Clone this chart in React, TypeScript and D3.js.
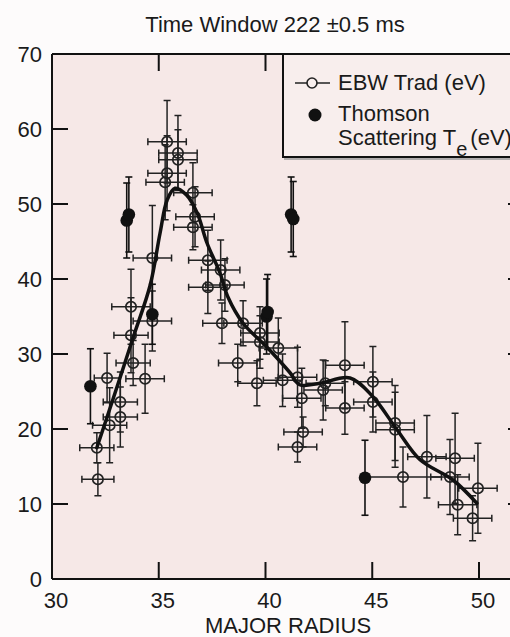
import React from "react";
import * as d3 from "d3";

// EBW Trad points: [x, y, xErr, yErr]
const ebwX = [32.15, 32.1, 32.7, 33.2, 33.2, 32.58, 34.36, 33.8, 33.7, 33.7, 34.7, 34.7,
  35.39, 35.9, 35.9, 35.39, 35.3, 36.6, 36.7, 36.6, 37.3, 37.9, 37.3, 38.1,
  37.96, 38.95, 39.74, 39.74, 40.6, 38.7, 39.6, 40.8, 41.5, 41.7, 42.7, 41.76, 41.5, 42.8,
  43.72, 43.72, 45.03, 45.03, 46.07, 46.07, 46.44, 47.56, 48.88, 48.64, 49.95, 49.0, 49.7];
const ebwY = [13.3, 17.5, 20.5, 21.6, 23.6, 26.8, 26.7, 28.8, 32.5, 36.3, 34.4, 42.8,
  58.3, 56.8, 55.9, 54.1, 52.9, 51.5, 48.3, 46.9, 42.5, 41.2, 38.9, 39.2,
  34.1, 34.1, 32.8, 31.6, 30.8, 28.8, 26.1, 26.5, 26.9, 24.1, 25.2, 19.6, 17.6, 26.1,
  28.5, 22.8, 26.3, 23.6, 20.8, 19.9, 13.6, 16.3, 16.1, 13.6, 12.1, 9.9, 8.1];
const ebwXErr = [0.75, 0.8, 0.8, 0.8, 0.8, 0.6, 0.9, 0.8, 0.8, 0.9, 0.9, 0.9,
  0.9, 0.9, 0.9, 0.9, 0.9, 0.9, 0.9, 0.9, 0.9, 0.9, 0.9, 0.9,
  0.9, 0.9, 0.9, 0.9, 0.9, 0.9, 0.9, 0.9, 0.9, 0.9, 0.9, 0.9, 0.9, 0.9,
  0.9, 0.9, 0.9, 0.9, 0.9, 0.9, 1.8, 0.9, 0.9, 0.9, 0.9, 0.9, 0.9];
const ebwYErr = [2.2, 2, 5, 4, 4, 3.3, 4.6, 3, 5, 5, 4, 7,
  5.5, 5, 4, 5, 5, 4, 4, 3, 4, 4, 3.5, 3.5,
  2.7, 3, 3.5, 3.5, 4, 2.5, 3, 3.5, 4, 4, 4, 2, 2, 3,
  5.8, 3.5, 4.7, 4, 5, 5, 4, 5.5, 6, 5, 6, 4, 3];

// Thomson scattering Te points
const thX = [31.8, 33.5, 33.6, 34.7, 40.05, 40.1, 41.2, 41.3, 44.66];
const thY = [25.7, 47.8, 48.6, 35.3, 35.0, 35.6, 48.6, 48.0, 13.5];
const thYErr = [5, 5, 5, 4, 5, 5, 5, 5, 5];

// Smooth fit curve
const fitX = [32.1, 32.86, 33.8, 34.6, 35.06, 35.39, 35.76, 36.3, 36.8, 37.26, 37.87, 38.24,
  38.95, 40.07, 41.15, 41.6, 42.55, 43.96, 45.03, 46.16, 47.24, 48.78, 49.9];
const fitY = [17.5, 24.0, 32.2, 39.2, 46.1, 50.5, 52.1, 51.2, 48.8, 44.8, 40.8, 37.6,
  34.1, 30.9, 27.5, 25.9, 26.1, 26.8, 24.3, 19.9, 15.9, 13.2, 10.1];

const xTicks = [30, 35, 40, 45, 50];
const yTicks = [0, 10, 20, 30, 40, 50, 60, 70];

export default function App() {
  const W = 510, H = 637;
  const left = 52, right = 524, top = 54, bottom = 579;
  const x = d3.scaleLinear().domain([30, 50]).range([52, 479]);
  const y = d3.scaleLinear().domain([0, 70]).range([579, 54]);
  const font = "'Liberation Sans', Arial, Helvetica, sans-serif";
  const line = d3.line<number>()
    .x((_, i) => x(fitX[i]))
    .y((_, i) => y(fitY[i]))
    .curve(d3.curveCatmullRom.alpha(0.5));
  const cap = 3.5;
  const tickLen = 17;
  return (
    <svg width={W} height={H} style={{ position: "absolute", left: 0, top: 0, background: "#fdfbfb" }}>
      <rect x={left} y={top} width={right - left} height={bottom - top} fill="#f6e8e7" />
      {/* title */}
      <text x={275} y={32} fontFamily={font} fontSize={22} textAnchor="middle" fill="#1a1a1a">Time Window 222 ±0.5 ms</text>
      {/* EBW error bars */}
      <g stroke="#222" strokeWidth={1.5} fill="none">
        {ebwX.map((xv, i) => {
          const cx = x(xv), cy = y(ebwY[i]);
          const y1 = y(ebwY[i] + ebwYErr[i]), y2 = y(ebwY[i] - ebwYErr[i]);
          const x1 = x(xv - ebwXErr[i]), x2 = x(xv + ebwXErr[i]);
          return (
            <g key={"e" + i}>
              <line x1={cx} x2={cx} y1={y1} y2={y2} />
              <line x1={cx - cap} x2={cx + cap} y1={y1} y2={y1} />
              <line x1={cx - cap} x2={cx + cap} y1={y2} y2={y2} />
              <line x1={x1} x2={x2} y1={cy} y2={cy} />
              <line x1={x1} x2={x1} y1={cy - cap} y2={cy + cap} />
              <line x1={x2} x2={x2} y1={cy - cap} y2={cy + cap} />
              <circle cx={cx} cy={cy} r={5.2} strokeWidth={1.7} />
            </g>
          );
        })}
      </g>
      {/* Thomson points */}
      <g stroke="#111" strokeWidth={1.6}>
        {thX.map((xv, i) => {
          const cx = x(xv), cy = y(thY[i]);
          const y1 = y(thY[i] + thYErr[i]), y2 = y(thY[i] - thYErr[i]);
          return (
            <g key={"t" + i}>
              <line x1={cx} x2={cx} y1={y1} y2={y2} />
              <line x1={cx - cap} x2={cx + cap} y1={y1} y2={y1} />
              <line x1={cx - cap} x2={cx + cap} y1={y2} y2={y2} />
              <circle cx={cx} cy={cy} r={6.3} fill="#111" stroke="none" />
            </g>
          );
        })}
      </g>
      {/* fit curve */}
      <path d={line(fitX) || ""} fill="none" stroke="#111" strokeWidth={3.5} strokeLinejoin="round" strokeLinecap="round" />
      {/* frame */}
      <g stroke="#111" strokeWidth={2}>
        <line x1={left} x2={right} y1={bottom} y2={bottom} />
        <line x1={left} x2={right} y1={top} y2={top} />
        <line x1={left} x2={left} y1={top} y2={bottom} />
        {xTicks.slice(1).map((t) => (
          <g key={"xt" + t}>
            <line x1={x(t)} x2={x(t)} y1={bottom} y2={bottom - tickLen} />
            <line x1={x(t)} x2={x(t)} y1={top} y2={top + tickLen} />
          </g>
        ))}
        {yTicks.slice(1, -1).map((t) => (
          <g key={"yt" + t}>
            <line x1={left} x2={left + 16} y1={y(t)} y2={y(t)} />
            <line x1={right} x2={right - 16} y1={y(t)} y2={y(t)} />
          </g>
        ))}
      </g>
      {/* legend */}
      <rect x={283} y={54} width={250} height={103} fill="#f8eeed" stroke="#111" strokeWidth={2} />
      <line x1={284} x2={520} y1={159} y2={159} stroke="#999" strokeWidth={1.5} />
      <line x1={295} x2={330} y1={83} y2={83} stroke="#222" strokeWidth={1.5} />
      <circle cx={312} cy={83} r={5} fill="#f8eeed" stroke="#222" strokeWidth={1.6} />
      <circle cx={315} cy={115} r={6.5} fill="#111" />
      <g fontFamily={font} fontSize={22} fill="#1a1a1a">
        <text x={338} y={90}>EBW Trad (eV)</text>
        <text x={338} y={121}>Thomson</text>
        <text x={338} y={145}>Scattering T<tspan dy={11} fontSize={20}>e</tspan><tspan dy={-11} dx={3}>(eV)</tspan></text>
      </g>
      {/* tick labels */}
      <g fontFamily={font} fontSize={22} fill="#1a1a1a">
        {yTicks.map((t) => (
          <text key={"yl" + t} x={42} y={y(t)} dy="0.36em" textAnchor="end">{t}</text>
        ))}
        {xTicks.map((t) => (
          <text key={"xl" + t} x={x(t) + 4} y={608} textAnchor="middle">{t}</text>
        ))}
        <text x={288} y={633} textAnchor="middle">MAJOR RADIUS</text>
      </g>
    </svg>
  );
}
